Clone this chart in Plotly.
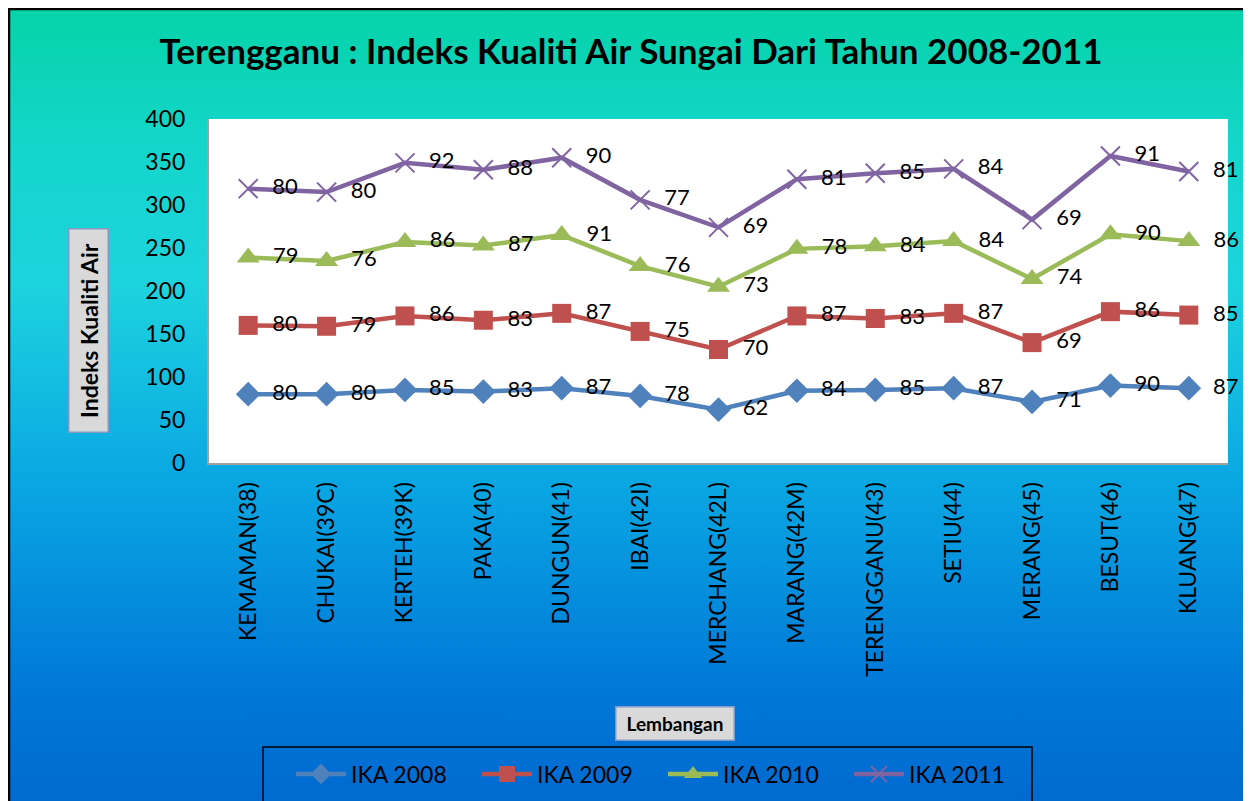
import base64
import numpy as np
import plotly.graph_objects as go

categories = ["KEMAMAN(38)", "CHUKAI(39C)", "KERTEH(39K)", "PAKA(40)", "DUNGUN(41)", "IBAI(42I)",
              "MERCHANG(42L)", "MARANG(42M)", "TERENGGANU(43)", "SETIU(44)", "MERANG(45)",
              "BESUT(46)", "KLUANG(47)"]
ika_2008 = [80, 80, 85, 83, 87, 78, 62, 84, 85, 87, 71, 90, 87]
ika_2009 = [80, 79, 86, 83, 87, 75, 70, 87, 83, 87, 69, 86, 85]
ika_2010 = [79, 76, 86, 87, 91, 76, 73, 78, 84, 84, 74, 90, 86]
ika_2011 = [80, 80, 92, 88, 90, 77, 69, 81, 85, 84, 69, 91, 81]
series_names = ["IKA 2008", "IKA 2009", "IKA 2010", "IKA 2011"]
y_ticks = [0, 50, 100, 150, 200, 250, 300, 350, 400]

OFF = 8  # page body margin
W, H = 1251 - OFF, 801 - OFF
# plot area in page pixels
PL, PR, PT, PB = 209, 1228, 119, 463
L, R, T, B = PL - OFF, PR - OFF, PT - OFF, PB - OFF
FONT = "Lato"


def px_x(px):
    """page x pixel -> paper coordinate"""
    return (px - OFF - L) / (R - L)


def px_y(py):
    """page y pixel -> paper coordinate"""
    return (B - (py - OFF)) / (B - T)


series = [ika_2008, ika_2009, ika_2010, ika_2011]
cum = np.cumsum(np.array(series), axis=0)
colors = ["#4F81BD", "#C0504D", "#9BBB59", "#8064A2"]
symbols = ["diamond", "square", "triangle-up", "x-thin"]
msizes = [19, 19, 20, 19]

fig = go.Figure()
for i in range(4):
    mk = dict(symbol=symbols[i], size=msizes[i], color=colors[i])
    if symbols[i] == "x-thin":
        mk["line"] = dict(color=colors[i], width=2)
    fig.add_trace(go.Scatter(
        x=categories, y=cum[i], name=series_names[i],
        mode="lines+markers+text",
        line=dict(color=colors[i], width=4.5),
        marker=mk,
        text=["  " + str(v) for v in series[i]],
        textposition="middle right",
        textfont=dict(family=FONT, size=22, color="black"),
        cliponaxis=False,
    ))

# gradient background as svg image
svg = '''<svg xmlns="http://www.w3.org/2000/svg" width="100" height="100" viewBox="0 0 100 100" preserveAspectRatio="none">
<defs><linearGradient id="g" x1="0" y1="0" x2="0" y2="1">
<stop offset="0" stop-color="#05D3A8"/>
<stop offset="0.18" stop-color="#14D6CC"/>
<stop offset="0.35" stop-color="#1DD3DE"/>
<stop offset="0.59" stop-color="#0AA8E3"/>
<stop offset="0.86" stop-color="#0078D8"/>
<stop offset="1" stop-color="#006AD0"/>
</linearGradient></defs>
<rect x="-10" y="0" width="120" height="100" fill="url(#g)"/></svg>'''
src = "data:image/svg+xml;base64," + base64.b64encode(svg.encode()).decode()

fig.add_layout_image(dict(
    source=src, xref="paper", yref="paper",
    x=-L / (R - L), y=1 + T / (B - T), sizex=(W + 20) / (R - L), sizey=H / (B - T),
    xanchor="left", yanchor="top", sizing="stretch", layer="below",
))

shapes = [
    # white plot area
    dict(type="rect", xref="paper", yref="paper", x0=0, x1=1, y0=0, y1=1,
         fillcolor="white", line=dict(width=0), layer="below"),
    # outer frame (top / left)
    dict(type="line", xref="paper", yref="paper", x0=-L / (R - L), x1=(W - L + 5) / (R - L),
         y0=1 + (T - 1) / (B - T), y1=1 + (T - 1) / (B - T),
         line=dict(color="black", width=2.5)),
    dict(type="line", xref="paper", yref="paper", x0=-(L - 1) / (R - L), x1=-(L - 1) / (R - L),
         y0=1 + T / (B - T), y1=-(H - B + 5) / (B - T),
         line=dict(color="black", width=2.5)),
    # legend box
    dict(type="rect", xref="paper", yref="paper", x0=px_x(263), x1=px_x(1032), y0=px_y(747), y1=px_y(820),
         line=dict(color="black", width=1.5), fillcolor="rgba(0,0,0,0)"),
]

annotations = [
    dict(text="<b>Indeks Kualiti Air</b>", textangle=-90, xref="paper", yref="paper",
         x=px_x(88), y=px_y(331), xanchor="center", yanchor="middle", showarrow=False,
         font=dict(family=FONT, size=23, color="black"),
         width=194, height=30, borderpad=4,
         bgcolor="#D9D9D9", bordercolor="#7F9CC8", borderwidth=1.5),
    dict(text="<b>Lembangan</b>", xref="paper", yref="paper",
         x=px_x(675), y=px_y(723), xanchor="center", yanchor="middle", showarrow=False,
         font=dict(family=FONT, size=19, color="black"),
         width=107, height=22, borderpad=5,
         bgcolor="#D9D9D9", bordercolor="#7F9CC8", borderwidth=1.5),
]

fig.update_layout(
    width=W, height=H,
    margin=dict(l=L, r=W - R, t=T, b=H - B, pad=0, autoexpand=False),
    paper_bgcolor="white", plot_bgcolor="white",
    title=dict(text="<b>Terengganu : Indeks Kualiti Air Sungai Dari Tahun 2008-2011</b>",
               x=(631 - OFF) / W, xanchor="center", y=1 - (52 - OFF) / H, yanchor="middle",
               font=dict(family=FONT, size=35, color="black")),
    font=dict(family=FONT, color="black"),
    showlegend=True,
    legend=dict(orientation="h", xref="container", yref="container",
                x=(291 - OFF) / W, xanchor="left", y=1 - (774 - OFF) / H, yanchor="middle",
                font=dict(family=FONT, size=23, color="black"),
                bgcolor="rgba(0,0,0,0)", borderwidth=0,
                entrywidth=121, entrywidthmode="pixels", itemwidth=50),
    shapes=shapes, annotations=annotations,
)
fig.update_xaxes(type="category", range=[-0.5, len(categories) - 0.5], showgrid=False,
                 showline=True, linecolor="#A0A0A0", linewidth=2, tickangle=-90,
                 tickfont=dict(family=FONT, size=23, color="black"), ticks="",
                 ticklabelstandoff=8, automargin=False)
fig.update_yaxes(range=[0, 400], tickvals=y_ticks, showgrid=False, zeroline=False,
                 showline=True, linecolor="#A0A0A0", linewidth=2,
                 tickfont=dict(family=FONT, size=23, color="black"), ticks="",
                 ticklabelstandoff=17, automargin=False)

fig.write_html("out.html")
